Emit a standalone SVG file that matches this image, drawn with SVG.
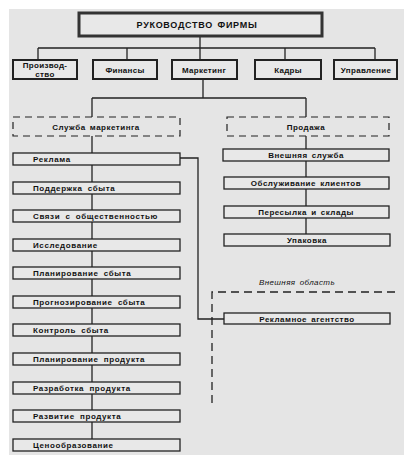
<svg xmlns="http://www.w3.org/2000/svg" width="418" height="460" viewBox="0 0 418 460">
<style>
.bg{fill:#e5e5e5}
.box{fill:#e8e8e8;stroke:#222;stroke-width:1.3}
.hbox{fill:#e8e8e8;stroke:#222;stroke-width:2}
.top{fill:#e8e8e8;stroke:#333;stroke-width:3}
.dbox{fill:none;stroke:#222;stroke-width:1.2;stroke-dasharray:7,5}
.ln{fill:none;stroke:#222;stroke-width:1.3}
.dl{fill:none;stroke:#222;stroke-width:1.3;stroke-dasharray:8,5}
text{font-family:"Liberation Sans",Arial,sans-serif;fill:#111;font-weight:bold}
.t{font-size:8px;letter-spacing:0.5px;word-spacing:1.5px}
.tl{font-size:8px;letter-spacing:0.6px;word-spacing:2.5px}
.th{font-size:8px;letter-spacing:0.3px}
.tt{font-size:9px;letter-spacing:0.7px;word-spacing:1.5px}
.ti{font-size:8px;font-style:italic;font-weight:normal;letter-spacing:0.4px;word-spacing:1.5px}
</style>
<rect class="bg" x="9" y="9" width="395" height="446"/>
<g id="connectors">
<path class="ln" d="M200 36V48M38 48H375M38 48V60M127 48V60M200 48V60M285 48V60M375 48V60"/>
<path class="ln" d="M203 79V98M92 98H306M92 98V117M306 98V117"/>
<path class="ln" d="M92 136V439"/>
<path class="ln" d="M306 136V234"/>
<path class="ln" d="M180 158H198V319H224"/>
</g>
<g id="outer-area">
<path class="dl" d="M212 403V292H398"/>
<text class="ti" x="297" y="285" text-anchor="middle">Внешняя область</text>
</g>
<g id="n-top"><rect class="top" x="79" y="13" width="243" height="23"/><text class="tt" x="197" y="28" text-anchor="middle">РУКОВОДСТВО ФИРМЫ</text></g>
<g id="n-prod"><rect class="hbox" x="13" y="60" width="64" height="19"/><text class="th" x="45" y="68" text-anchor="middle">Производ-</text><text class="th" x="45" y="77" text-anchor="middle">ство</text></g>
<g id="n-fin"><rect class="hbox" x="93" y="60" width="64" height="19"/><text class="th" x="125" y="72.5" text-anchor="middle">Финансы</text></g>
<g id="n-mark"><rect class="hbox" x="172" y="60" width="65" height="19"/><text class="th" x="204" y="72.5" text-anchor="middle">Маркетинг</text></g>
<g id="n-kadry"><rect class="hbox" x="255" y="60" width="66" height="19"/><text class="th" x="288" y="72.5" text-anchor="middle">Кадры</text></g>
<g id="n-upr"><rect class="hbox" x="334" y="60" width="63" height="19"/><text class="th" x="366" y="72.5" text-anchor="middle">Управление</text></g>
<g id="n-sm"><rect class="dbox" x="13" y="117" width="167" height="19"/><text class="t" x="96" y="129.5" text-anchor="middle">Служба маркетинга</text></g>
<g id="n-sales"><rect class="dbox" x="227" y="117" width="162" height="19"/><text class="t" x="306" y="129.5" text-anchor="middle">Продажа</text></g>
<g id="l1"><rect class="box" x="13" y="153" width="167" height="12"/><text class="tl" x="33" y="162">Реклама</text></g>
<g id="l2"><rect class="box" x="13" y="182" width="167" height="12"/><text class="tl" x="33" y="191">Поддержка сбыта</text></g>
<g id="l3"><rect class="box" x="13" y="210" width="167" height="12"/><text class="tl" x="33" y="219">Связи с общественностью</text></g>
<g id="l4"><rect class="box" x="13" y="239" width="167" height="12"/><text class="tl" x="33" y="248">Исследование</text></g>
<g id="l5"><rect class="box" x="13" y="267" width="167" height="12"/><text class="tl" x="33" y="276">Планирование сбыта</text></g>
<g id="l6"><rect class="box" x="13" y="296" width="167" height="12"/><text class="tl" x="33" y="305">Прогнозирование сбыта</text></g>
<g id="l7"><rect class="box" x="13" y="324" width="167" height="12"/><text class="tl" x="33" y="333">Контроль сбыта</text></g>
<g id="l8"><rect class="box" x="13" y="353" width="167" height="12"/><text class="tl" x="33" y="362">Планирование продукта</text></g>
<g id="l9"><rect class="box" x="13" y="382" width="167" height="12"/><text class="tl" x="33" y="391">Разработка продукта</text></g>
<g id="l10"><rect class="box" x="13" y="410" width="167" height="12"/><text class="tl" x="33" y="419">Развитие продукта</text></g>
<g id="l11"><rect class="box" x="13" y="439" width="167" height="12"/><text class="tl" x="33" y="448">Ценообразование</text></g>
<g id="r1"><rect class="box" x="223" y="149" width="166" height="12"/><text class="t" x="306" y="158" text-anchor="middle">Внешняя служба</text></g>
<g id="r2"><rect class="box" x="224" y="177" width="165" height="12"/><text class="t" x="306" y="186" text-anchor="middle">Обслуживание клиентов</text></g>
<g id="r3"><rect class="box" x="224" y="206" width="165" height="12"/><text class="t" x="306" y="215" text-anchor="middle">Пересылка и склады</text></g>
<g id="r4"><rect class="box" x="224" y="234" width="166" height="12"/><text class="t" x="307" y="243" text-anchor="middle">Упаковка</text></g>
<g id="r5"><rect class="box" x="224" y="313" width="166" height="11"/><text class="t" x="307" y="321.5" text-anchor="middle">Рекламное агентство</text></g>
</svg>
